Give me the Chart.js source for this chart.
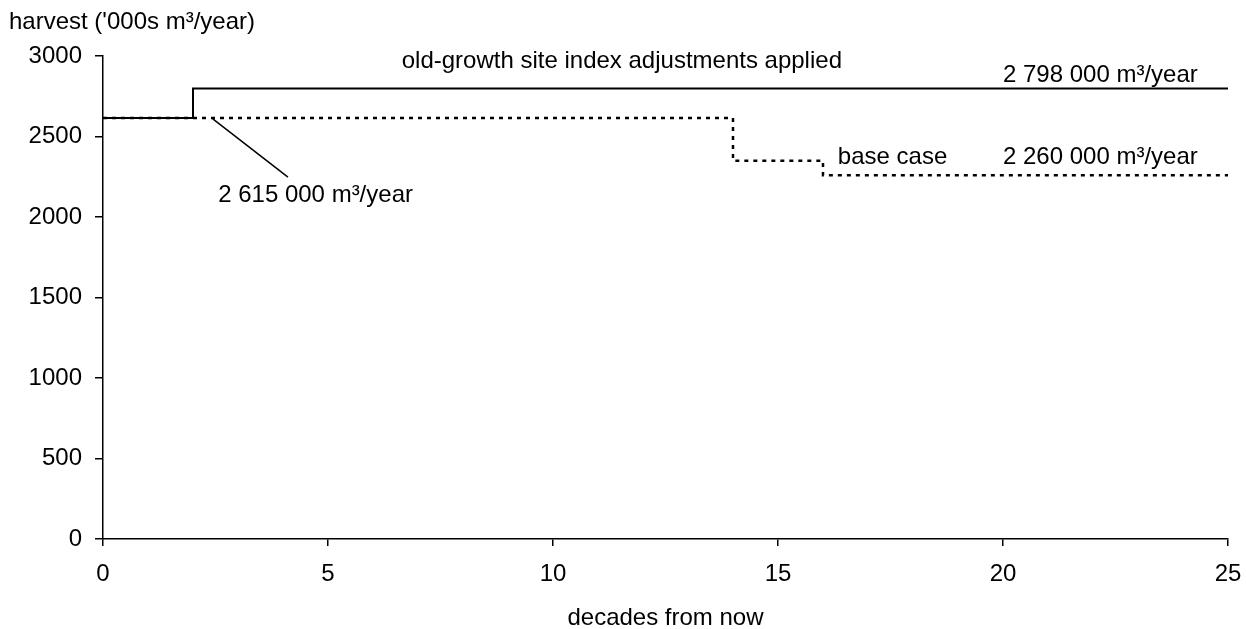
<!DOCTYPE html>
<html>
<head>
<meta charset="utf-8">
<script src="https://cdn.jsdelivr.net/npm/chart.js@4.4.1/dist/chart.umd.min.js"></script>
<style>
  html, body { margin: 0; padding: 0; background: #fff; }
  #wrap { width: 1246px; height: 629px; }
</style>
</head>
<body>
<div id="wrap"><canvas id="harvestChart"></canvas></div>
<script>
'use strict';

// ===== DATA =====
const oldGrowthX = [0, 2, 25];
const oldGrowthY = [2615, 2798, 2798];
const baseCaseX = [0, 14, 16, 25];
const baseCaseY = [2615, 2350, 2260, 2260];
const xTicks = [0, 5, 10, 15, 20, 25];
const yTicks = [0, 500, 1000, 1500, 2000, 2500, 3000];

const FONT = '"Liberation Sans", Arial, sans-serif';
const FSIZE = 24;

const toPoints = (xs, ys) => xs.map((x, i) => ({ x: x, y: ys[i] }));

// Labels drawn in data coordinates
const notes = [
    { text: 'old-growth site index adjustments applied', x: 11.53, y: 2969, align: 'center' },
    { text: '2 798 000 m³/year', x: 20, y: 2882, align: 'left' },
    { text: 'base case', x: 16.33, y: 2372, align: 'left' },
    { text: '2 260 000 m³/year', x: 20, y: 2372, align: 'left' },
    { text: '2 615 000 m³/year', x: 2.56, y: 2137, align: 'left' },
];

const annotationPlugin = {
    id: 'notes',
    afterDraw(chart) {
        const { ctx, chartArea, scales: { x, y } } = chart;
        ctx.save();
        ctx.fillStyle = '#000';
        ctx.font = FSIZE + 'px ' + FONT;
        ctx.textBaseline = 'middle';
        notes.forEach(n => {
            ctx.textAlign = n.align;
            ctx.fillText(n.text, x.getPixelForValue(n.x), y.getPixelForValue(n.y));
        });
        // leader line to the 2 615 000 label
        ctx.strokeStyle = '#000';
        ctx.lineWidth = 1.5;
        ctx.beginPath();
        ctx.moveTo(x.getPixelForValue(2.44), y.getPixelForValue(2609));
        ctx.lineTo(x.getPixelForValue(4.11), y.getPixelForValue(2248));
        ctx.stroke();
        // axis titles
        ctx.textAlign = 'left';
        ctx.fillText("harvest ('000s m³/year)", 9, 22);
        ctx.textAlign = 'center';
        ctx.fillText('decades from now', (chartArea.left + chartArea.right) / 2, 618);
        ctx.restore();
    }
};

new Chart(document.getElementById('harvestChart'), {
    type: 'line',
    data: {
        datasets: [
            {
                label: 'base case',
                data: toPoints(baseCaseX, baseCaseY),
                stepped: 'before',
                borderColor: '#000', borderWidth: 2.5,
                borderDash: [4, 5],
                pointRadius: 0, fill: false,
            },
            {
                label: 'old-growth site index adjustments applied',
                data: toPoints(oldGrowthX, oldGrowthY),
                stepped: 'before',
                borderColor: '#000', borderWidth: 2,
                pointRadius: 0, fill: false,
            }
        ]
    },
    options: {
        responsive: true, maintainAspectRatio: false,
        animation: false,
        layout: { padding: { left: 0, right: 18, top: 56, bottom: 0 } },
        plugins: { legend: { display: false }, tooltip: { enabled: false } },
        scales: {
            x: {
                type: 'linear', min: 0, max: 25,
                afterBuildTicks: s => { s.ticks = xTicks.map(v => ({ value: v })); },
                afterFit: s => { s.height = 90; s.paddingLeft = 0; s.paddingRight = 0; },
                grid: { drawOnChartArea: false, tickLength: 7, color: '#000', lineWidth: 1.5 },
                border: { color: '#000', width: 1.5 },
                ticks: { color: '#000', padding: 14, maxRotation: 0, callback: v => String(v), font: { family: FONT, size: FSIZE } }
            },
            y: {
                type: 'linear', min: 0, max: 3000,
                afterBuildTicks: s => { s.ticks = yTicks.map(v => ({ value: v })); },
                afterFit: s => { s.width = 103; s.paddingTop = 0; s.paddingBottom = 0; },
                grid: { drawOnChartArea: false, tickLength: 8, color: '#000', lineWidth: 1.5 },
                border: { color: '#000', width: 1.5 },
                ticks: { color: '#000', padding: 13, callback: v => String(v), font: { family: FONT, size: FSIZE } }
            }
        }
    },
    plugins: [annotationPlugin]
});
</script>
</body>
</html>
